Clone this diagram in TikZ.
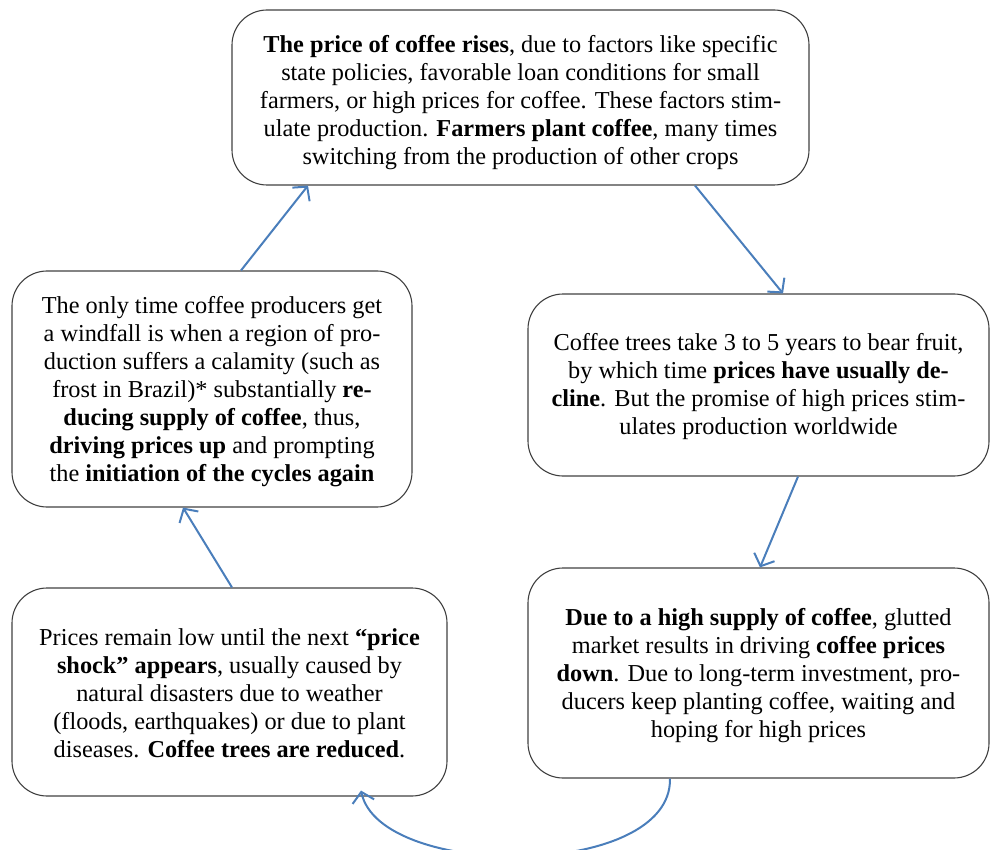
\documentclass[tikz,border=0pt]{standalone}
\usepackage{fontspec}
\setmainfont{Liberation Serif}
\usetikzlibrary{arrows.meta}
\definecolor{arrowblue}{HTML}{4A7EBB}
\definecolor{boxgray}{HTML}{404040}
\newcommand{\topstrut}[1]{\rule{0pt}{#1}}
\begin{document}
\begin{tikzpicture}[x=1pt,y=-1pt,
  cbox/.style={draw=boxgray, line width=1.1pt, rounded corners=35pt, align=center,
    inner sep=0pt, font=\fontsize{24.3}{28}\selectfont, text=black},
  flow/.style={draw=arrowblue, line width=2pt, -{Straight Barb[length=10pt,width=22pt]}}]
\useasboundingbox (0,0) rectangle (990,850);
\clip (0,0) rectangle (990,850);
\node[cbox, minimum width=577pt, minimum height=175pt] (top) at (520.5,97.5)
 {\topstrut{27pt}\textbf{The price of coffee rises}, due to factors like specific\\
  state policies, favorable loan conditions for small\\
  farmers, or high prices for coffee. These factors stim-\\
  ulate production. \textbf{Farmers plant coffee}, many times\\
  switching from the production of other crops};
\node[cbox, minimum width=400pt, minimum height=236pt] (left) at (212,389)
 {\topstrut{23pt}The only time coffee producers get\\
  a windfall is when a region of pro-\\
  duction suffers a calamity (such as\\
  frost in Brazil)* substantially \textbf{re-}\\
  \textbf{ducing supply of coffee}, thus,\\
  \textbf{driving prices up} and prompting\\
  the \textbf{initiation of the cycles again}};
\node[cbox, minimum width=461pt, minimum height=182pt] (right) at (758.5,385)
 {\topstrut{21pt}Coffee trees take 3 to 5 years to bear fruit,\\
  by which time \textbf{prices have usually de-}\\
  \textbf{cline}. But the promise of high prices stim-\\
  ulates production worldwide};
\node[cbox, minimum width=435pt, minimum height=208pt] (bl) at (229.5,692)
 {\topstrut{19pt}Prices remain low until the next \textbf{“price}\\
  \textbf{shock” appears}, usually caused by\\
  natural disasters due to weather\\
  (floods, earthquakes) or due to plant\\
  diseases. \textbf{Coffee trees are reduced}.};
\node[cbox, minimum width=461pt, minimum height=210pt] (br) at (758.5,673)
 {\topstrut{23pt}\textbf{Due to a high supply of coffee}, glutted\\
  market results in driving \textbf{coffee prices}\\
  \textbf{down}. Due to long-term investment, pro-\\
  ducers keep planting coffee, waiting and\\
  hoping for high prices};
\draw[flow] ([xshift=29pt]left.north) -- ([xshift=-212.5pt]top.south);
\draw[flow] ([xshift=174.5pt]top.south) -- ([xshift=24.5pt]right.north);
\draw[flow] ([xshift=39.5pt]right.south) -- ([xshift=1.5pt]br.north);
\draw[flow] ([xshift=-88.5pt]br.south) .. controls (672,880) and (380,880) .. ([xshift=131.5pt,yshift=6pt]bl.south);
\draw[flow] ([xshift=2.5pt]bl.north) -- ([xshift=-29pt]left.south);
\end{tikzpicture}
\end{document}
